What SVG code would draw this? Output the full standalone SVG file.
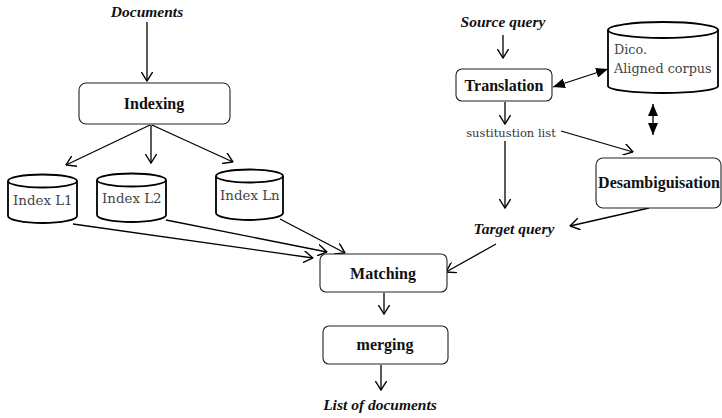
<svg xmlns="http://www.w3.org/2000/svg" width="722" height="418" viewBox="0 0 722 418">
  <style>
    .box { fill: #fff; stroke: #222; stroke-width: 1.1; }
    .cyl { fill: #fff; stroke: #000; stroke-width: 1.8; }
    .edge { fill: none; stroke: #000; stroke-width: 1.3; }
    .title { font-family: "Liberation Serif", "Times New Roman", serif; font-weight: bold; font-size: 16px; fill: #111; text-anchor: middle; }
    .io { font-family: "Liberation Serif", "Times New Roman", serif; font-weight: bold; font-style: italic; font-size: 15.5px; fill: #111; text-anchor: middle; }
    .store { font-family: "DejaVu Serif", "Liberation Serif", serif; font-size: 13.4px; fill: #444; }
    .store.small { font-size: 12.8px; }
    .note { font-family: "DejaVu Serif", "Liberation Serif", serif; font-size: 11.5px; fill: #333; text-anchor: middle; }
  </style>
  <defs>
    <marker id="open" viewBox="0 0 10 12" refX="9.5" refY="6" markerWidth="10" markerHeight="12" markerUnits="userSpaceOnUse" orient="auto">
      <path d="M0,0 L9.5,6 L0,12" fill="none" stroke="#000" stroke-width="1.4"/>
    </marker>
    <marker id="solid" viewBox="0 0 12 10" refX="12" refY="5" markerWidth="12" markerHeight="10" markerUnits="userSpaceOnUse" orient="auto-start-reverse">
      <path d="M0,0 L12,5 L0,10 z" fill="#000"/>
    </marker>
  </defs>

  <!-- connectors -->
  <g id="connectors">
    <line class="edge" x1="147" y1="22" x2="147" y2="81" marker-end="url(#open)"/>
    <line class="edge" x1="150" y1="125" x2="66" y2="165" marker-end="url(#open)"/>
    <line class="edge" x1="151" y1="125" x2="151" y2="163" marker-end="url(#open)"/>
    <line class="edge" x1="152" y1="125" x2="233" y2="162" marker-end="url(#open)"/>
    <line class="edge" x1="73" y1="224" x2="313" y2="258" marker-end="url(#open)"/>
    <line class="edge" x1="166" y1="220" x2="327" y2="252" marker-end="url(#open)"/>
    <line class="edge" x1="280" y1="219" x2="345" y2="253" marker-end="url(#open)"/>
    <line class="edge" x1="384" y1="293" x2="384" y2="314" marker-end="url(#open)"/>
    <line class="edge" x1="381" y1="365" x2="381" y2="390" marker-end="url(#open)"/>
    <line class="edge" x1="503" y1="35" x2="503" y2="58" marker-end="url(#open)"/>
    <line class="edge" x1="505" y1="102" x2="505" y2="124" marker-end="url(#open)"/>
    <line class="edge" x1="505" y1="141" x2="505" y2="208" marker-end="url(#open)"/>
    <line class="edge" x1="561" y1="131" x2="633" y2="152" marker-end="url(#open)"/>
    <line class="edge" x1="649" y1="208" x2="570" y2="226" marker-end="url(#open)"/>
    <line class="edge" x1="496" y1="244" x2="446" y2="272" marker-end="url(#open)"/>
    <line class="edge" x1="553" y1="87" x2="608" y2="69" marker-start="url(#solid)" marker-end="url(#solid)"/>
    <line class="edge" x1="653" y1="104" x2="653" y2="135" marker-start="url(#solid)" marker-end="url(#solid)"/>
  </g>

  <!-- inputs and outputs -->
  <text class="io" x="147" y="17">Documents</text>
  <text class="io" x="503" y="27">Source query</text>
  <text class="io" x="514" y="234">Target query</text>
  <text class="io" x="380" y="410">List of documents</text>
  <text class="note" x="511" y="137">sustitustion list</text>

  <!-- processing steps -->
  <g id="indexing">
    <rect class="box" x="79" y="83" width="151" height="41" rx="7"/>
    <text class="title" x="154" y="109">Indexing</text>
  </g>
  <g id="translation">
    <rect class="box" x="456" y="69" width="96" height="32" rx="6"/>
    <text class="title" x="504" y="91">Translation</text>
  </g>
  <g id="desambiguisation">
    <rect class="box" x="596" y="158" width="125" height="50" rx="7"/>
    <text class="title" x="659" y="188">Desambiguisation</text>
  </g>
  <g id="matching">
    <rect class="box" x="320" y="254" width="127" height="38" rx="6"/>
    <text class="title" x="383" y="279">Matching</text>
  </g>
  <g id="merging">
    <rect class="box" x="323" y="326" width="125" height="38" rx="6"/>
    <text class="title" x="385" y="350">merging</text>
  </g>

  <!-- data stores -->
  <g id="index-l1">
    <path class="cyl" d="M8,181 L8,216 A34.5,7 0 0 0 77,216 L77,181"/>
    <ellipse class="cyl" cx="42.5" cy="181" rx="34.5" ry="6.5"/>
    <text class="store" x="13" y="205">Index L1</text>
  </g>
  <g id="index-l2">
    <path class="cyl" d="M97,180 L97,215 A34.5,7 0 0 0 166,215 L166,180"/>
    <ellipse class="cyl" cx="131.5" cy="180" rx="34.5" ry="6.5"/>
    <text class="store" x="102" y="203">Index L2</text>
  </g>
  <g id="index-ln">
    <path class="cyl" d="M216,176 L216,213 A33.5,7 0 0 0 283,213 L283,176"/>
    <ellipse class="cyl" cx="249.5" cy="176" rx="33.5" ry="6.5"/>
    <text class="store" x="220" y="200">Index Ln</text>
  </g>
  <g id="dico">
    <path class="cyl" d="M608,30 L608,86 A55,7 0 0 0 718,86 L718,30"/>
    <ellipse class="cyl" cx="663" cy="30" rx="55" ry="8"/>
    <text class="store small" x="614" y="54">Dico.</text>
    <text class="store small" x="614" y="73">Aligned corpus</text>
  </g>
</svg>
